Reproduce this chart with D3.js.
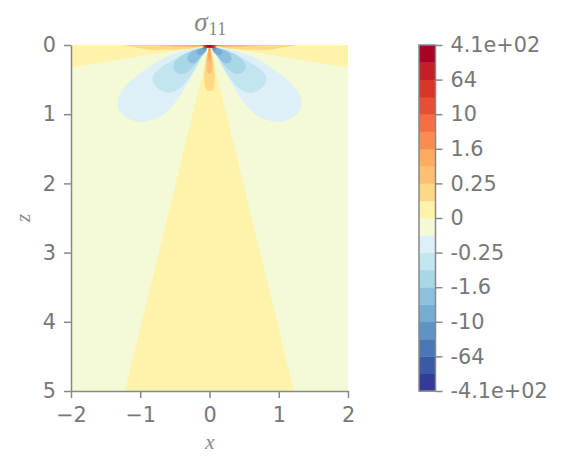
<!DOCTYPE html>
<html><head><meta charset="utf-8">
<script src="https://cdn.jsdelivr.net/npm/d3@7"></script>
<style>
html,body{margin:0;padding:0;background:#fff}
svg{display:block}
text{font-family:"DejaVu Sans",sans-serif}
</style></head><body>
<svg id="c" width="563" height="469"></svg>
<script>
// Colour levels, from lowest to highest
const levelColors = ["#333a97","#3c59a6","#4a77b6","#5f93c3","#74add1","#8dc0df","#a8d7e6","#c3e5ef","#ddf0f7","#f3fad5",
  "#fff2ab","#fed882","#fdbf71","#fdab5f","#fa8c50","#f46d43","#e54f35","#d93429","#c41e27","#a80327"];
const colorbarLabels = ["-4.1e+02","-64","-10","-1.6","-0.25","0","0.25","1.6","10","64","4.1e+02"];
const xTicks = [-2,-1,0,1,2];
const zTicks = [0,1,2,3,4,5];

// Contour outlines, [x, z], left half (mirrored for the right)
const lobeM1 = [[-.04,.02],[-.113,.034],[-.426,.096],[-.715,.217],[-1.004,.41],[-1.22,.60],[-1.317,.77],[-1.317,.915],[-1.22,1.036],[-1.028,1.108],[-.835,1.084],[-.643,.987],[-.45,.77],[-.306,.53],[-.185,.314],[-.09,.12]];
const lobeM2 = [[-.04,.03],[-.09,.062],[-.33,.111],[-.523,.217],[-.715,.337],[-.82,.458],[-.81,.554],[-.715,.65],[-.57,.689],[-.426,.626],[-.282,.458],[-.162,.265],[-.079,.111]];
const lobeM3 = [[-.035,.03],[-.075,.048],[-.234,.072],[-.401,.159],[-.498,.241],[-.523,.337],[-.45,.409],[-.354,.409],[-.234,.314],[-.137,.192],[-.065,.097]];
const lobeM4 = [[-.065,.043],[-.185,.062],[-.282,.12],[-.32,.192],[-.282,.256],[-.209,.256],[-.127,.169],[-.055,.082]];
const lobeM5 = [[-.05,.039],[-.137,.053],[-.185,.097],[-.162,.145],[-.098,.13],[-.04,.072]];
const lobeM6 = [[-.04,.022],[-.1,.034],[-.095,.07],[-.04,.05]];
const lobeM7 = [[-.02,.018],[-.05,.024],[-.05,.045],[-.02,.04]];
const lobes = [[8,lobeM1],[7,lobeM2],[6,lobeM3],[5,lobeM4],[4,lobeM5],[3,lobeM6],[2,lobeM7]];

// Half outlines symmetric about x = 0, from the surface inwards
const sideWedge = [[-2,0],[-2,.325],[-.86,.14],[0,0]];
const centerWedge = [[0,0],[-1.22,5]];
const columnL1 = [[0,0],[-.055,.217],[-.078,.43],[-.072,.578],[-.045,.65],[0,.665]];
const columnL2 = [[0,0],[-.035,.2],[-.04,.33],[-.028,.4],[0,.42]];
const columnL3 = [[0,.02],[-.025,.12],[-.018,.2],[0,.24]];
const columnL4 = [[0,.02],[-.012,.06],[0,.1]];
const surfaceL1 = [[-1.27,0],[-.86,.068],[-.5,.07],[-.25,.05],[-.05,.012],[0,0]];
const surfaceL2 = [[-.75,0],[-.45,.028],[-.2,.03],[-.05,.012],[0,0]];
const surfaceL3 = [[-.42,0],[-.2,.014],[-.05,.01],[0,0]];
const surfaceL4 = [[-.25,0],[-.1,.01],[0,.006]];
const surfaceL5 = [[-.14,0],[-.08,.015],[0,.02]];
const surfaceL6 = [[-.1,0],[-.08,.03],[0,.035]];
const surfaceL7 = [[-.08,0],[-.07,.035],[0,.042]];
const surfaceL8 = [[-.065,0],[-.055,.035],[0,.04]];
const surfaceL9 = [[-.035,0],[-.025,.025],[0,.03]];
const halves = [[10,centerWedge],[11,columnL1],[12,columnL2],[13,columnL3],[14,columnL4],
  [11,surfaceL1],[12,surfaceL2],[13,surfaceL3],[14,surfaceL4],[15,surfaceL5],[16,surfaceL6],[17,surfaceL7],[18,surfaceL8],[19,surfaceL9]];

const grey = "#888888", textGrey = "#777777";
const svg = d3.select("#c");
const x = d3.scaleLinear().domain([-2,2]).range([71,348]);
const z = d3.scaleLinear().domain([0,5]).range([45,391]);
const defs = svg.append("defs");
defs.append("clipPath").attr("id","plot").append("rect")
  .attr("x",x(-2)).attr("y",z(0)).attr("width",x(2)-x(-2)).attr("height",z(5)-z(0));
const plot = svg.append("g").attr("clip-path","url(#plot)");
plot.append("rect").attr("x",x(-2)).attr("y",z(0)).attr("width",x(2)-x(-2)).attr("height",z(5)-z(0)).attr("fill",levelColors[9]);

const poly = d3.line().x(d=>x(d[0])).y(d=>z(d[1]));
const smooth = d3.line().x(d=>x(d[0])).y(d=>z(d[1])).curve(d3.curveCatmullRomClosed.alpha(.5));
const mirror = pts => pts.map(d=>[-d[0],d[1]]);

// side yellow wedges
[sideWedge, mirror(sideWedge)].forEach(p=>plot.append("path").attr("d",poly(p)+"Z").attr("fill",levelColors[10]));

// everything symmetric about the axis that sits under the lobes
plot.append("path").attr("d",poly([...centerWedge,...mirror(centerWedge).reverse()])+"Z").attr("fill",levelColors[10]);

lobes.forEach(([lvl,p])=>{
  [p,mirror(p)].forEach(q=>plot.append("path").attr("d",smooth(q)).attr("fill",levelColors[lvl]));
});
halves.slice(1).forEach(([lvl,p])=>{
  plot.append("path").attr("d",poly([...p,...mirror(p).reverse()])+"Z").attr("fill",levelColors[lvl]);
});

function styleAxis(g){
  g.selectAll(".domain").attr("stroke",grey).attr("stroke-width",1.5);
  g.selectAll(".tick line").attr("stroke",grey).attr("stroke-width",1.5);
  g.selectAll("text").attr("fill",textGrey).style("font-size","20.8px").style("font-family",'"DejaVu Sans",sans-serif');
}
const fmt = d=>String(d).replace("-","\u2212");
svg.append("g").attr("transform",`translate(0,${z(5)})`)
  .call(d3.axisBottom(x).tickValues(xTicks).tickFormat(fmt).tickSize(7).tickPadding(9).tickSizeOuter(0)).call(styleAxis);
svg.append("g").attr("transform",`translate(${x(-2)},0)`)
  .call(d3.axisLeft(z).tickValues(zTicks).tickFormat(fmt).tickSize(7).tickPadding(8).tickSizeOuter(0)).call(styleAxis);

// colour bar
const barX = 419, barW = 16.5;
const barScale = d3.scaleLinear().domain([0,levelColors.length]).range([391,45]);
svg.append("g").selectAll("rect").data(levelColors).join("rect")
  .attr("x",barX).attr("width",barW)
  .attr("y",(d,i)=>barScale(i+1)).attr("height",(d,i)=>barScale(i)-barScale(i+1)+.4)
  .attr("fill",d=>d);
svg.append("rect").attr("x",barX).attr("y",45).attr("width",barW).attr("height",346)
  .attr("fill","none").attr("stroke",grey).attr("stroke-width",1.5);
svg.append("g").attr("transform",`translate(${barX+barW},0)`)
  .call(d3.axisRight(barScale).tickValues(colorbarLabels.map((d,i)=>i*2)).tickFormat((d,i)=>colorbarLabels[i]).tickSize(7).tickPadding(8).tickSizeOuter(0))
  .call(styleAxis).call(g=>g.select(".domain").remove());

// title and axis labels
const serif = '"Liberation Serif","DejaVu Serif",serif';
const title = svg.append("text").attr("x",210.5).attr("y",31).attr("text-anchor","middle")
  .attr("fill",grey).style("font-family",serif);
title.append("tspan").style("font-style","italic").style("font-size","27px").text("\u03c3");
title.append("tspan").attr("dy",4).attr("dx",1).style("font-size","18px").style("letter-spacing","0.5px").text("11");
svg.append("text").attr("x",210).attr("y",449).attr("text-anchor","middle").attr("fill",grey)
  .style("font-family",serif).style("font-style","italic").style("font-size","21px").text("x");
svg.append("text").attr("transform","translate(30,218) rotate(-90)").attr("text-anchor","middle").attr("fill",grey)
  .style("font-family",serif).style("font-style","italic").style("font-size","21px").text("z");
</script>
</body></html>
